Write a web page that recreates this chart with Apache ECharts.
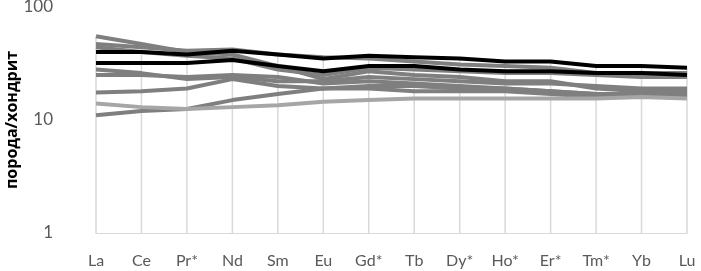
<!DOCTYPE html>
<html>
<head>
<meta charset="utf-8">
<script src="https://cdn.jsdelivr.net/npm/echarts@6/dist/echarts.min.js"></script>
<style>html,body{margin:0;padding:0;background:#fff}#c{width:701px;height:271px}</style>
</head>
<body>
<div id="c"></div>
<script>
const categories = ['La','Ce','Pr*','Nd','Sm','Eu','Gd*','Tb','Dy*','Ho*','Er*','Tm*','Yb','Lu'];
const yTicks = [1, 10, 100];
const yName = 'порода/хондрит';

const s1 = [55, 47, 40, 38, 30, 23, 27, 25, 24, 22, 22, 19, 18, 18];
const s2 = [47, 44, 41, 42, 38, 36, 35, 33, 31, 30, 29, 26, 26, 26];
const s3 = [44, 40, 37, 35, 28, 25, 29, 28, 27, 26, 26, 25, 24, 24];
const s4 = [40, 40, 38, 41, 38, 35, 37, 36, 35, 33, 33, 30, 30, 29];
const s5 = [32, 32, 32, 34, 30, 27, 30, 30, 28, 27, 27, 26, 26, 25];
const s6 = [28, 26, 23, 24, 22, 22, 24, 23, 22, 21, 21, 20, 19, 19];
const s7 = [25, 25, 24, 25, 24, 21, 22, 21, 20, 19, 18, 17, 17, 17];
const s8 = [17.5, 18, 19, 23, 20, 19, 19, 18, 18, 18, 17, 16, 16, 16];
const s9 = [14, 13, 12.5, 13, 13.5, 14.5, 15, 15.5, 15.5, 15.5, 15.5, 15.5, 16, 15.5];
const s10 = [11, 12, 12.5, 15, 17, 19, 20, 20, 19, 19, 18, 17, 17, 16.5];

const seriesList = [
  {data: s1, color: '#7f7f7f'},
  {data: s2, color: '#7f7f7f'},
  {data: s3, color: '#7f7f7f'},
  {data: s6, color: '#7f7f7f'},
  {data: s7, color: '#7f7f7f'},
  {data: s8, color: '#7f7f7f'},
  {data: s10, color: '#7f7f7f'},
  {data: s9, color: '#a6a6a6'},
  {data: s5, color: '#000000'},
  {data: s4, color: '#000000'}
];

const maxVals = categories.map((c, i) => Math.max(...seriesList.map(s => s.data[i])));

const chart = echarts.init(document.getElementById('c'), null, {renderer: 'canvas'});
const font = 'Lato, "Open Sans", sans-serif';
chart.setOption({
  animation: false,
  grid: {left: 96, right: 14, top: 7, bottom: 38, containLabel: false, outerBoundsMode: 'none'},
  xAxis: {
    type: 'category',
    data: categories,
    boundaryGap: false,
    axisLine: {lineStyle: {color: '#d9d9d9', width: 1}},
    axisTick: {show: false},
    splitLine: {show: false},
    axisLabel: {color: '#595959', fontSize: 16, fontFamily: font, margin: 20}
  },
  yAxis: {
    type: 'log',
    logBase: 10,
    min: yTicks[0],
    max: yTicks[yTicks.length - 1],
    axisLine: {show: false},
    axisTick: {show: false},
    splitLine: {show: false},
    axisLabel: {color: '#595959', fontSize: 17, fontFamily: font, margin: 43},
    name: yName,
    nameLocation: 'middle',
    nameRotate: 90,
    nameGap: 76,
    nameMoveOverlap: false,
    nameTextStyle: {color: '#000', fontSize: 16, fontWeight: 'bold', fontFamily: '"Open Sans", sans-serif'}
  },
  series: [
    {
      type: 'custom',
      data: maxVals.map((v, i) => [i, v]),
      z: 1,
      renderItem: function (params, api) {
        const top = api.coord([api.value(0), api.value(1)]);
        const bot = api.coord([api.value(0), yTicks[0]]);
        return {type: 'line', shape: {x1: top[0], y1: top[1], x2: bot[0], y2: bot[1]},
          style: {stroke: '#d9d9d9', lineWidth: 1.5}};
      }
    }
  ].concat(seriesList.map((s, k) => ({
    type: 'line',
    data: s.data,
    symbol: 'none',
    z: 2 + k,
    lineStyle: {color: s.color, width: 4},
    itemStyle: {color: s.color}
  })))
});
</script>
</body>
</html>
